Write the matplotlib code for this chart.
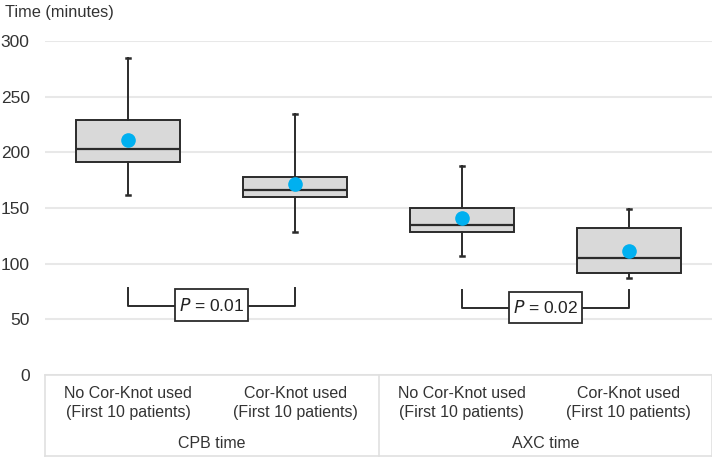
import matplotlib
matplotlib.use("Agg")
import matplotlib.pyplot as plt
from matplotlib.patches import Rectangle

plt.rcParams['font.family'] = ['Liberation Sans', 'DejaVu Sans']

# datos
grupos = ["CPB time", "AXC time"]
categorias = ["No Cor-Knot used\n(First 10 patients)", "Cor-Knot used\n(First 10 patients)",
              "No Cor-Knot used\n(First 10 patients)", "Cor-Knot used\n(First 10 patients)"]
minimo = [162, 128, 107, 87]
q1 = [191, 160, 128.5, 92]
mediana = [203, 166, 134.5, 105]
q3 = [229, 178, 150, 132]
maximo = [285, 234, 188, 149]
media = [211, 171.5, 141, 111.5]

# comparaciones: pares de cajas, texto P, altura de brazos y de la linea
p_textos = ["0.01", "0.02"]
pares = [(0, 1), (2, 3)]
brazo_top = [78, 76]
brazo_bajo = [62, 60]

fig = plt.figure(figsize=(7.12, 4.57), dpi=100)
ax = fig.add_axes([45/712, 82/457, 667/712, 334/457])

stats = []
for i in range(len(categorias)):
    stats.append(dict(whislo=minimo[i], q1=q1[i], med=mediana[i], q3=q3[i],
                      whishi=maximo[i], mean=media[i], fliers=[]))

ax.bxp(stats, positions=range(len(categorias)), widths=0.625, patch_artist=True,
       showmeans=True, capwidths=0.025,
       boxprops=dict(facecolor="#d9d9d9", edgecolor="#2b2b2b", linewidth=1.4),
       medianprops=dict(color="#2b2b2b", linewidth=1.6),
       whiskerprops=dict(color="#2b2b2b", linewidth=1.4),
       capprops=dict(color="#2b2b2b", linewidth=1.8),
       meanprops=dict(marker="o", markerfacecolor="#00b0f0", markeredgecolor="#00b0f0",
                      markersize=9.5))

# brackets con P
for (a, b), txt, yt, yb in zip(pares, p_textos, brazo_top, brazo_bajo):
    ax.plot([a, a, b, b], [yt, yb, yb, yt], color="#2b2b2b", lw=1.4, zorder=3)
    xm = (a + b) / 2
    ax.add_patch(Rectangle((xm - 0.22, yb - 13.5), 0.44, 28.5, facecolor="white",
                           edgecolor="#2b2b2b", lw=1.3, zorder=4))
    ax.text(xm, yb + 0.5, "$P$ = " + txt, ha="center", va="center", fontsize=12.5,
            color="#222222", zorder=5)

ax.set_xlim(-0.5, 3.5)
ax.set_ylim(0, 300)
ax.set_yticks(range(0, 301, 50))
ax.grid(axis="y", color="#e8e8e8", lw=1.5)
ax.set_axisbelow(True)
for s in ax.spines.values():
    s.set_visible(False)
ax.tick_params(axis="y", length=0, pad=11, labelsize=12.5, labelcolor="#333333")
ax.set_xticks(range(len(categorias)))
ax.set_xticklabels(categorias, fontsize=11.5, color="#333333", linespacing=1.3)
ax.tick_params(axis="x", length=0, pad=8)

# tabla de etiquetas abajo
trans = ax.get_xaxis_transform()
lc = "#e0e0e0"
fondo = -(456 - 375) / 334
ax.plot([-0.5, 3.5], [0, 0], color=lc, lw=1.2, transform=trans, clip_on=False)
ax.plot([-0.5, 3.5], [fondo, fondo], color=lc, lw=1.2, transform=trans, clip_on=False)
for xv in [-0.5, 1.5, 3.5]:
    ax.plot([xv, xv], [0, fondo], color=lc, lw=1.2, transform=trans, clip_on=False)
for g, nombre in enumerate(grupos):
    ax.text(2 * g + 0.5, -(443 - 375) / 334, nombre, transform=trans, ha="center",
            va="center", fontsize=11.5, color="#333333")

fig.text(5/712, 1 - 12/457, "Time (minutes)", ha="left", va="center", fontsize=11.8,
         color="#333333")

fig.savefig("out.png", dpi=100)
